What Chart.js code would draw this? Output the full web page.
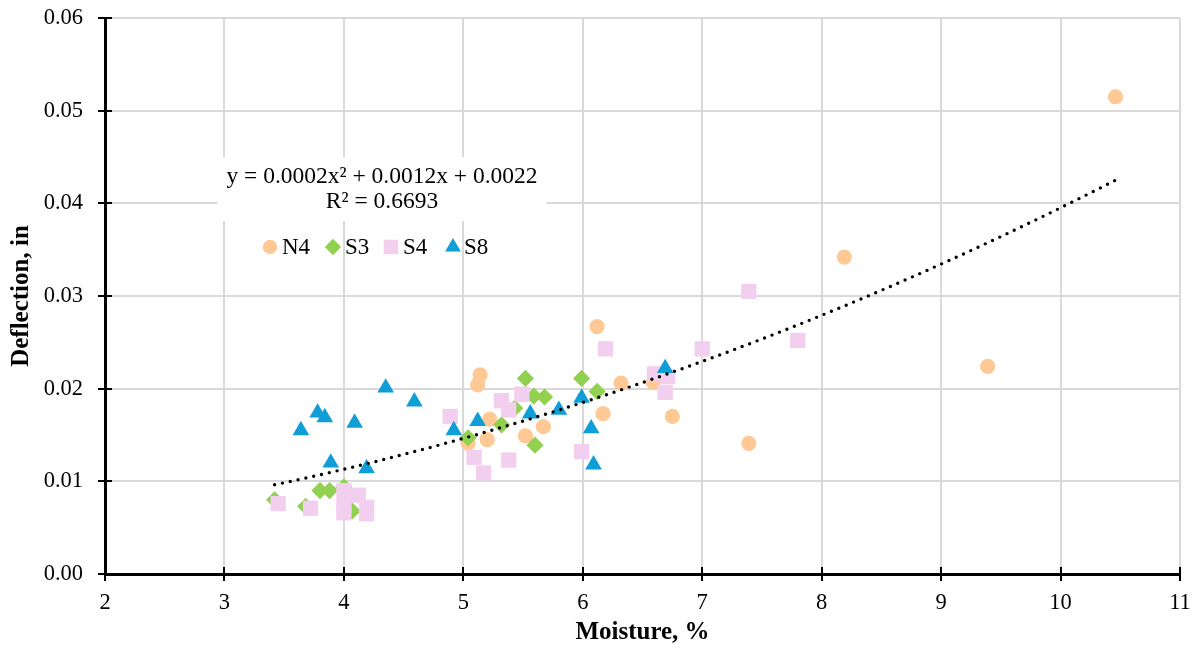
<!DOCTYPE html>
<html>
<head>
<meta charset="utf-8">
<title>Deflection vs Moisture</title>
<script src="https://cdn.jsdelivr.net/npm/chart.js@4.4.1/dist/chart.umd.min.js"></script>
<style>
  html, body { margin: 0; padding: 0; background: #ffffff; }
  #wrap { width: 1194px; height: 648px; position: relative; }
</style>
</head>
<body>
<div id="wrap"><canvas id="chart" width="1194" height="648"></canvas></div>
<script>
// Moisture (%) and deflection (in) for each section
const n4Moisture   = [5.14, 5.12, 5.22, 5.67, 5.52, 5.20, 5.04, 6.12, 6.32, 6.17, 6.59, 6.75, 7.39, 8.19, 9.39, 10.46];
const n4Deflection = [0.0215, 0.0204, 0.0167, 0.0159, 0.0149, 0.0145, 0.0141, 0.0267, 0.0206, 0.0173, 0.0207, 0.0170, 0.0141, 0.0342, 0.0224, 0.0515];

const s3Moisture   = [3.42, 3.68, 3.80, 3.88, 4.00, 4.07, 5.04, 5.32, 5.43, 5.52, 5.59, 5.68, 5.60, 5.99, 6.12];
const s3Deflection = [0.0080, 0.0073, 0.0090, 0.0090, 0.0094, 0.0068, 0.0147, 0.0161, 0.0179, 0.0211, 0.0192, 0.0191, 0.0139, 0.0211, 0.0197];

const s4Moisture   = [3.45, 3.72, 4.00, 4.12, 4.00, 4.00, 4.19, 4.19, 4.89, 5.09, 5.17, 5.32, 5.38, 5.38, 5.49, 5.99, 6.19, 6.60, 6.71, 6.69, 7.00, 7.39, 7.80];
const s4Deflection = [0.0076, 0.0071, 0.0090, 0.0085, 0.0074, 0.0066, 0.0072, 0.0065, 0.0170, 0.0126, 0.0109, 0.0187, 0.0177, 0.0123, 0.0194, 0.0132, 0.0243, 0.0216, 0.0213, 0.0196, 0.0243, 0.0305, 0.0252];

const s8Moisture   = [3.64, 3.78, 3.84, 3.89, 4.09, 4.19, 4.35, 4.59, 4.92, 5.12, 5.56, 5.80, 5.99, 6.07, 6.09, 6.69];
const s8Deflection = [0.0155, 0.0174, 0.0169, 0.0120, 0.0163, 0.0114, 0.0201, 0.0186, 0.0155, 0.0165, 0.0173, 0.0177, 0.0190, 0.0157, 0.0118, 0.0222];

// Axis ticks
const xTicks = [2, 3, 4, 5, 6, 7, 8, 9, 10, 11];
const yTicks = [0, 0.01, 0.02, 0.03, 0.04, 0.05, 0.06];

// Trendline label
const equationText = 'y = 0.0002x\u00B2 + 0.0012x + 0.0022';
const rSquaredText = 'R\u00B2 = 0.6693';

const seriesNames = ['N4', 'S3', 'S4', 'S8'];
const seriesColors = ['#FFC996', '#92D050', '#F2CEEF', '#109ED6'];
const seriesStyles = ['circle', 'rectRot', 'rect', 'triangle'];
const seriesRadius = [7.6, 8.6, 10.8, 9.6];

const serif = "'Liberation Serif', 'Times New Roman', serif";

function toPoints(xs, ys) {
  return xs.map((x, i) => ({ x: x, y: ys[i] }));
}

// Second-order polynomial least-squares fit over all sections
function quadraticFit(xs, ys) {
  const S = [0, 0, 0, 0, 0];
  const T = [0, 0, 0];
  for (let i = 0; i < xs.length; i++) {
    let p = 1;
    for (let k = 0; k < 5; k++) { S[k] += p; p *= xs[i]; }
    T[0] += ys[i];
    T[1] += xs[i] * ys[i];
    T[2] += xs[i] * xs[i] * ys[i];
  }
  const M = [
    [S[0], S[1], S[2], T[0]],
    [S[1], S[2], S[3], T[1]],
    [S[2], S[3], S[4], T[2]]
  ];
  for (let c = 0; c < 3; c++) {
    let piv = c;
    for (let r = c + 1; r < 3; r++) if (Math.abs(M[r][c]) > Math.abs(M[piv][c])) piv = r;
    [M[c], M[piv]] = [M[piv], M[c]];
    for (let r = 0; r < 3; r++) {
      if (r === c) continue;
      const f = M[r][c] / M[c][c];
      for (let k = c; k < 4; k++) M[r][k] -= f * M[c][k];
    }
  }
  return { c0: M[0][3] / M[0][0], c1: M[1][3] / M[1][1], c2: M[2][3] / M[2][2] };
}

const allX = [].concat(n4Moisture, s3Moisture, s4Moisture, s8Moisture);
const allY = [].concat(n4Deflection, s3Deflection, s4Deflection, s8Deflection);
const fit = quadraticFit(allX, allY);
const xMin = Math.min.apply(null, allX);
const xMax = Math.max.apply(null, allX);
const trendPoints = [];
const steps = 150;
for (let i = 0; i <= steps; i++) {
  const x = xMin + (xMax - xMin) * i / steps;
  trendPoints.push({ x: x, y: fit.c0 + fit.c1 * x + fit.c2 * x * x });
}

const seriesData = [
  toPoints(n4Moisture, n4Deflection),
  toPoints(s3Moisture, s3Deflection),
  toPoints(s4Moisture, s4Deflection),
  toPoints(s8Moisture, s8Deflection)
];

const datasets = seriesNames.map((name, i) => ({
  label: name,
  data: seriesData[i],
  pointStyle: seriesStyles[i],
  pointRadius: seriesRadius[i],
  pointHoverRadius: seriesRadius[i],
  backgroundColor: seriesColors[i],
  borderColor: seriesColors[i],
  pointBorderWidth: 0,
  borderWidth: 0,
  showLine: false,
  order: 10 - i
}));

datasets.push({
  label: 'Poly. (trend)',
  data: trendPoints,
  showLine: true,
  pointRadius: 0,
  borderColor: '#000000',
  borderWidth: 3.4,
  borderDash: [0, 8],
  borderCapStyle: 'round',
  tension: 0,
  fill: false,
  order: 1
});

// Cross tick marks, equation box and in-plot legend
const legendMarkerX = [270, 333, 391, 453];
const legendTextX = [282, 345, 403, 464];

const overlay = {
  id: 'overlay',
  afterDraw(chart) {
    const ctx = chart.ctx;
    const xs = chart.scales.x;
    const ys = chart.scales.y;
    const area = chart.chartArea;
    ctx.save();
    ctx.strokeStyle = '#000000';
    ctx.lineWidth = 2;
    ctx.beginPath();
    yTicks.forEach(v => {
      const py = Math.round(ys.getPixelForValue(v));
      ctx.moveTo(area.left - 7, py);
      ctx.lineTo(area.left + 7, py);
    });
    xTicks.forEach(v => {
      const px = Math.round(xs.getPixelForValue(v));
      ctx.moveTo(px, area.bottom - 7);
      ctx.lineTo(px, area.bottom + 7);
    });
    ctx.stroke();

    // equation label
    ctx.font = '23.5px ' + serif;
    const eqW = ctx.measureText(equationText).width;
    const eqCx = 382;
    ctx.fillStyle = '#ffffff';
    ctx.fillRect(eqCx - eqW / 2 - 9, 157, eqW + 18, 64);
    ctx.fillStyle = '#000000';
    ctx.textAlign = 'center';
    ctx.textBaseline = 'middle';
    ctx.fillText(equationText, eqCx, 177);
    ctx.fillText(rSquaredText, eqCx, 202);

    // legend
    ctx.font = '23px ' + serif;
    ctx.textAlign = 'left';
    const ly = 247;
    seriesNames.forEach((name, i) => {
      ctx.fillStyle = seriesColors[i];
      Chart.helpers.drawPoint(ctx, {
        pointStyle: seriesStyles[i],
        radius: seriesRadius[i] * 0.95,
        borderWidth: 0,
        rotation: 0
      }, legendMarkerX[i], ly);
      ctx.fillStyle = '#000000';
      ctx.fillText(name, legendTextX[i], ly + 1);
    });
    ctx.restore();
  }
};

new Chart(document.getElementById('chart'), {
  type: 'scatter',
  data: { datasets: datasets },
  options: {
    responsive: false,
    animation: false,
    devicePixelRatio: 1,
    layout: { padding: { left: 0, right: 14, top: 18, bottom: 0 } },
    plugins: {
      legend: { display: false },
      tooltip: { enabled: false }
    },
    scales: {
      x: {
        type: 'linear',
        min: xTicks[0],
        max: xTicks[xTicks.length - 1],
        afterBuildTicks(scale) { scale.ticks = xTicks.map(v => ({ value: v })); },
        ticks: { font: { family: serif, size: 22.5 }, color: '#000000', padding: 16, maxRotation: 0 },
        grid: { color: '#d9d9d9', lineWidth: 2, drawTicks: false },
        border: { color: '#000000', width: 3 },
        title: {
          display: true, text: 'Moisture, %', color: '#000000',
          font: { family: serif, size: 25, weight: 'bold' },
          padding: { top: 0, bottom: 0 }
        },
        afterFit(scale) {
          scale.height = 74;
          scale.paddingLeft = 0;
          scale.paddingRight = 0;
        }
      },
      y: {
        type: 'linear',
        min: yTicks[0],
        max: yTicks[yTicks.length - 1],
        afterBuildTicks(scale) { scale.ticks = yTicks.map(v => ({ value: v })); },
        ticks: { font: { family: serif, size: 22.5 }, color: '#000000', padding: 22, callback: v => v.toFixed(2) },
        grid: { color: '#d9d9d9', lineWidth: 2, drawTicks: false },
        border: { color: '#000000', width: 3 },
        title: {
          display: true, text: 'Deflection, in', color: '#000000',
          font: { family: serif, size: 25, weight: 'bold' },
          padding: { top: 7, bottom: 0 }
        },
        afterFit(scale) {
          scale.width = 105;
          scale.paddingTop = 0;
          scale.paddingBottom = 0;
        }
      }
    }
  },
  plugins: [overlay]
});
</script>
</body>
</html>
